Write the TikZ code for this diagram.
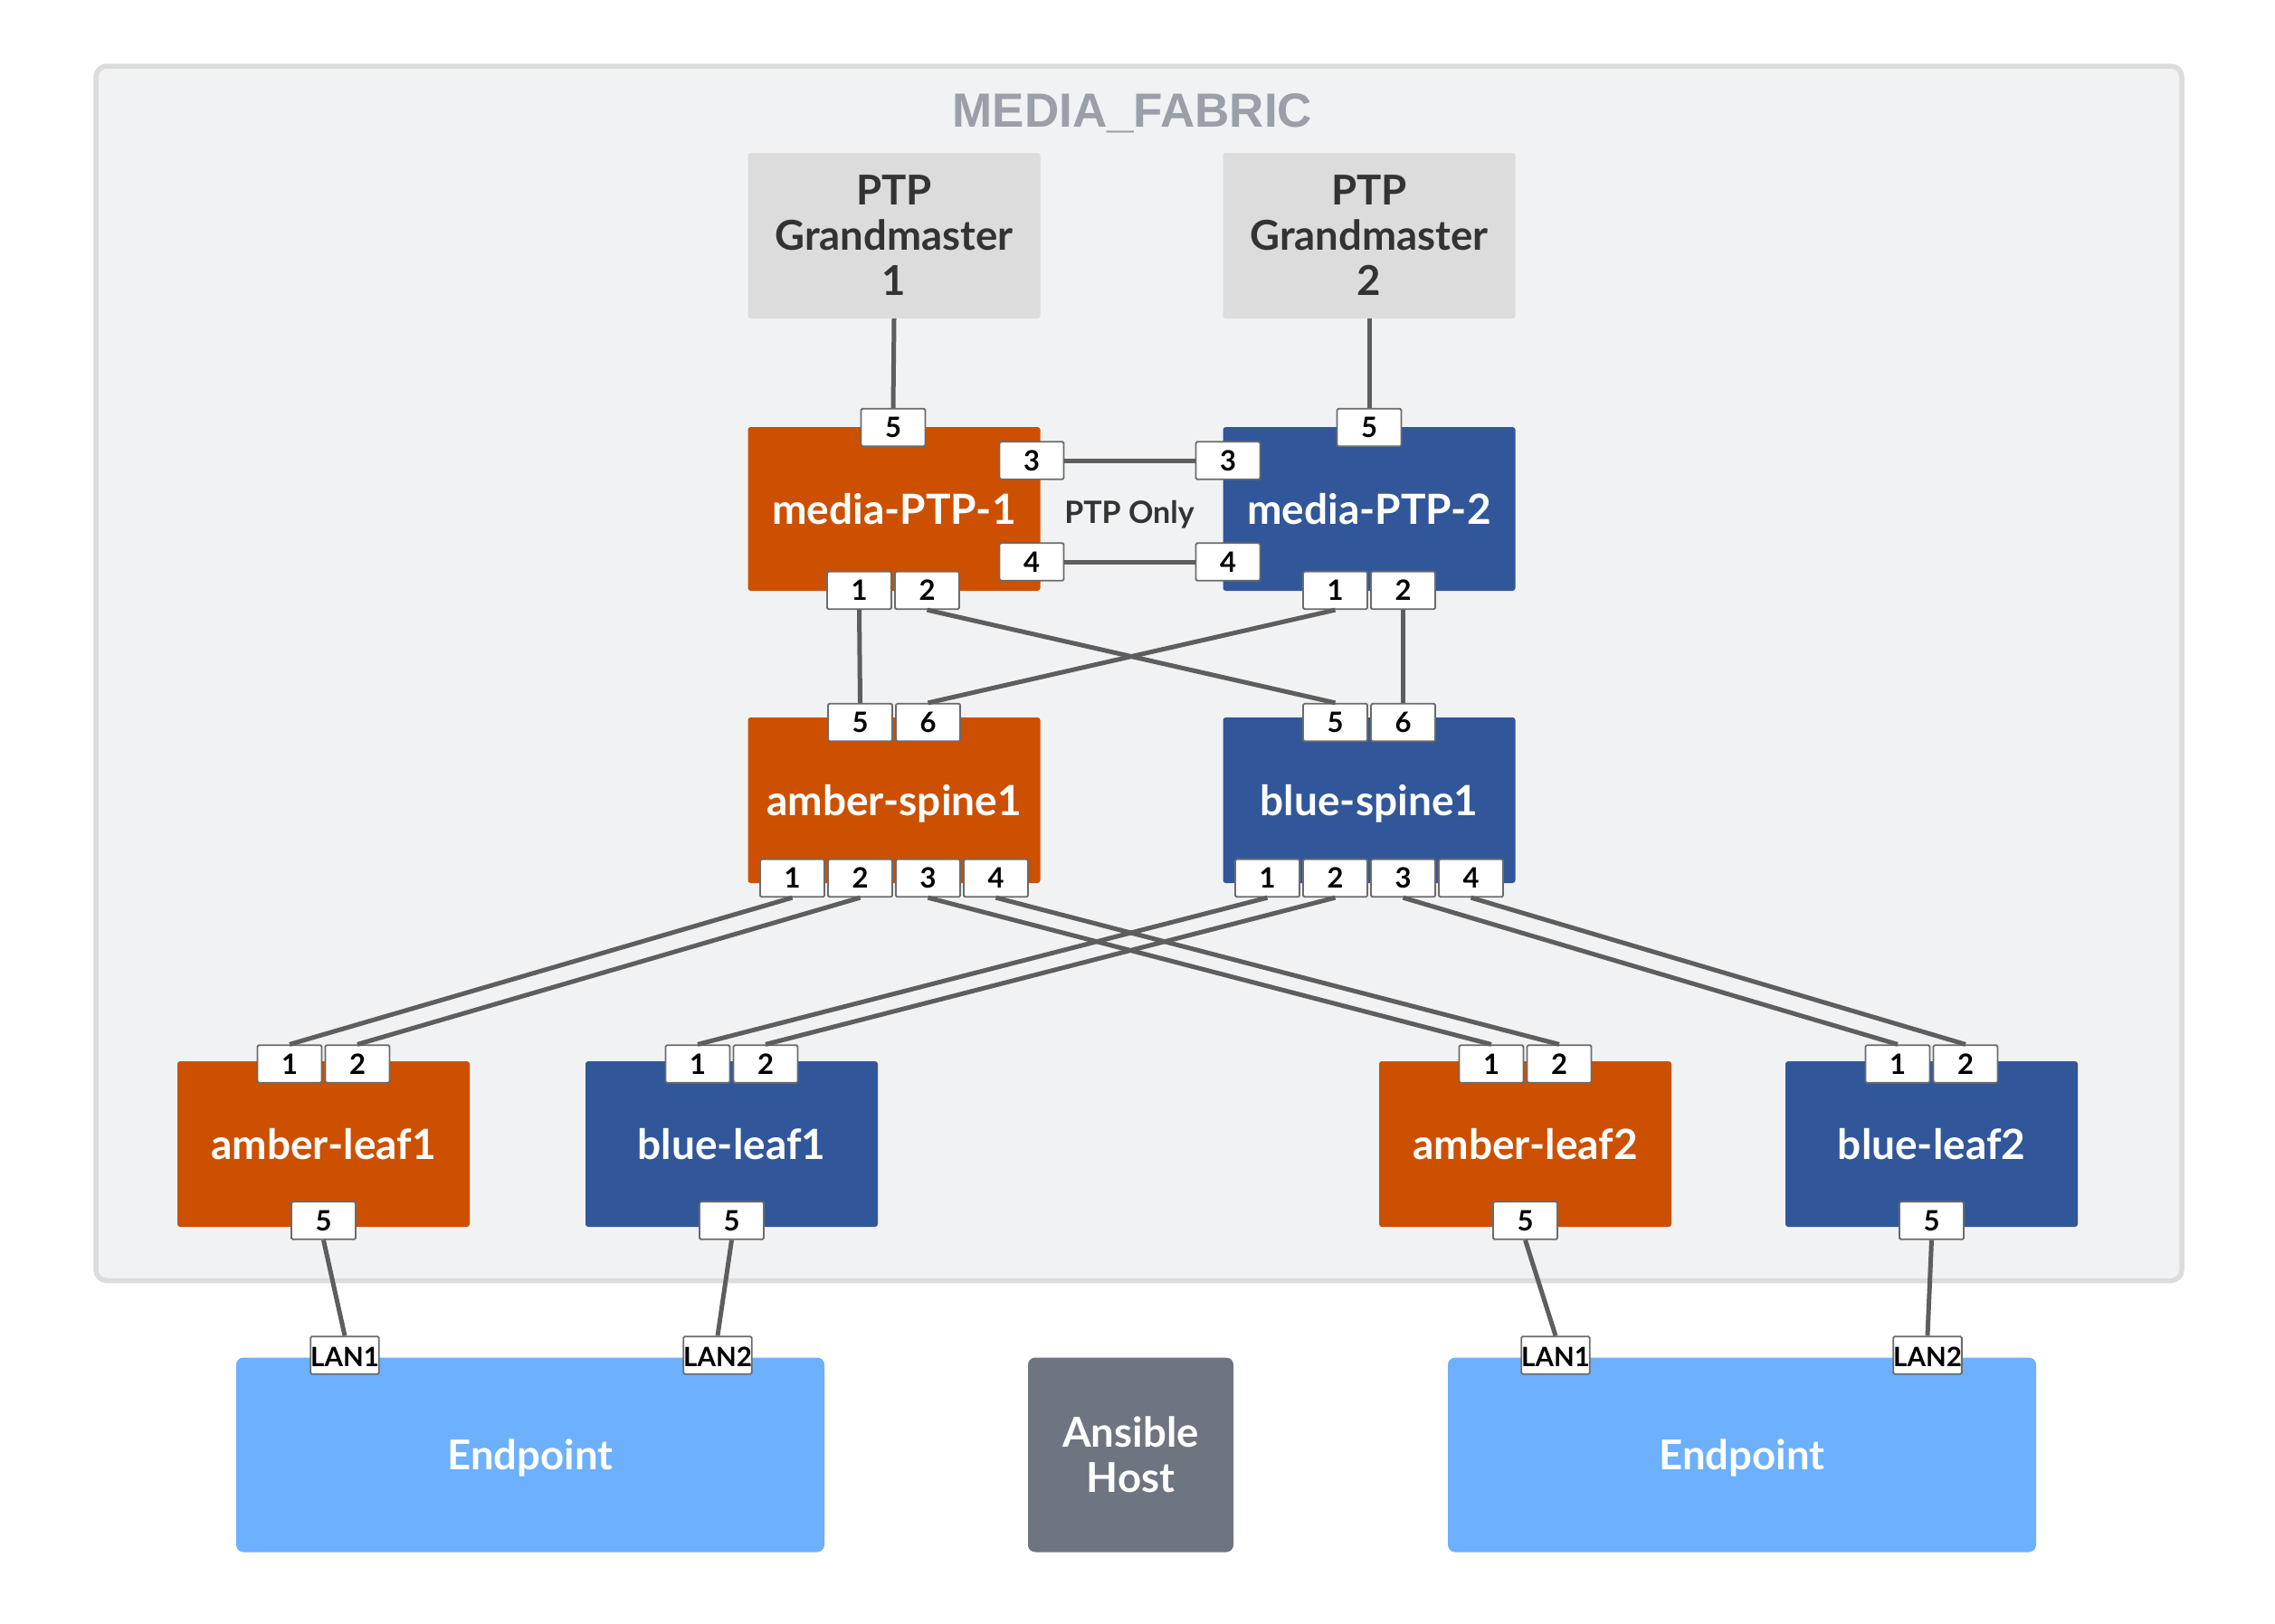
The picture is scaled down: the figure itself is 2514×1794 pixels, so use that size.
\documentclass[tikz,border=0pt]{standalone}
\usepackage{fontspec}
\setmainfont{Lato}
\newfontfamily\titlefont{Liberation Sans}
\definecolor{amber}{HTML}{CC5000}
\definecolor{bluec}{HTML}{31579A}
\definecolor{gmgray}{HTML}{DCDCDC}
\definecolor{framefill}{HTML}{F1F2F4}
\definecolor{frameline}{HTML}{DCDCDC}
\definecolor{endp}{HTML}{6CB0FE}
\definecolor{ansiblec}{HTML}{6E7480}
\definecolor{linkc}{HTML}{5E5E5E}
\definecolor{portline}{HTML}{6B6B6B}
\definecolor{titlec}{HTML}{9A9FA8}
\definecolor{darktext}{HTML}{333333}
\tikzset{
  box/.style={rectangle, rounded corners=3pt, minimum width=323pt, minimum height=183pt,
    inner sep=0pt, text=white, align=center},
  dev/.style={box, font=\bfseries\fontsize{46}{50}\selectfont, text height=33pt, text depth=0pt},
  amberdev/.style={dev, fill=amber},
  bluedev/.style={dev, fill=bluec},
  gmbox/.style={box, fill=gmgray, text=darktext, font=\bfseries\fontsize{45.5}{50}\selectfont},
  hostbox/.style={box, rounded corners=8pt, minimum height=215pt, font=\bfseries\fontsize{45.5}{50}\selectfont},
  port/.style={rectangle, draw=portline, line width=1.8pt, fill=white, rounded corners=1.5pt,
    minimum width=71pt, minimum height=41.5pt, inner sep=0pt, text=black,
    font=\bfseries\fontsize{31}{32}\selectfont, text height=22pt, text depth=0pt},
  lanport/.style={port, font=\bfseries\fontsize{29.5}{32}\selectfont, text height=24pt},
  link/.style={draw=linkc, line width=5pt}
}
\begin{document}
\begin{tikzpicture}[x=1pt, y=-1pt]
\useasboundingbox (0,0) rectangle (2514,1794);
\fill[white] (0,0) rectangle (2514,1794);
% fabric frame
\draw[draw=frameline, line width=5.5pt, fill=framefill, rounded corners=12pt] (106,73) rectangle (2411,1415.5);
\node[font=\titlefont\bfseries\fontsize{53}{60}\selectfont, text=titlec, anchor=base, inner sep=0pt] (title) at (1251.5,140) {MEDIA\_FABRIC};

% grandmasters
\node[gmbox] (gm1) at (988,260.5) {PTP\\Grandmaster\\1};
\node[gmbox] (gm2) at (1513,260.5) {PTP\\Grandmaster\\2};

% PTP switches
\node[amberdev, minimum height=181pt] (ptp1) at (988,562.5) {media-PTP-1};
\node[bluedev, minimum height=181pt] (ptp2) at (1513,562.5) {media-PTP-2};
\node[port] (ptp1p5) at (987,472.5) {5};
\node[port] (ptp1p3) at (1140,509) {3};
\node[port] (ptp1p4) at (1140,621) {4};
\node[port] (ptp1p1) at (949.5,652.5) {1};
\node[port] (ptp1p2) at (1024.5,652.5) {2};
\node[port] (ptp2p5) at (1513,472.5) {5};
\node[port] (ptp2p3) at (1357,509) {3};
\node[port] (ptp2p4) at (1357,621) {4};
\node[port] (ptp2p1) at (1475.5,652.5) {1};
\node[port] (ptp2p2) at (1550.5,652.5) {2};
\node[font=\bfseries\fontsize{34}{38}\selectfont, text=darktext, anchor=base, inner sep=0pt] (ptponly) at (1248,578) {PTP Only};

% spines
\node[amberdev] (aspine) at (988,884.5) {amber-spine1};
\node[bluedev] (bspine) at (1513,884.5) {blue-spine1};
\node[port] (as5) at (950.5,798.5) {5};
\node[port] (as6) at (1025.5,798.5) {6};
\node[port] (as1) at (875.5,970.5) {1};
\node[port] (as2) at (950.5,970.5) {2};
\node[port] (as3) at (1025.5,970.5) {3};
\node[port] (as4) at (1100.5,970.5) {4};
\node[port] (bs5) at (1475.5,798.5) {5};
\node[port] (bs6) at (1550.5,798.5) {6};
\node[port] (bs1) at (1400.5,970.5) {1};
\node[port] (bs2) at (1475.5,970.5) {2};
\node[port] (bs3) at (1550.5,970.5) {3};
\node[port] (bs4) at (1625.5,970.5) {4};

% leaves
\node[amberdev] (al1) at (357.5,1264.5) {amber-leaf1};
\node[bluedev] (bl1) at (808.5,1264.5) {blue-leaf1};
\node[amberdev] (al2) at (1685.5,1264.5) {amber-leaf2};
\node[bluedev] (bl2) at (2134.5,1264.5) {blue-leaf2};
\foreach \n/\x in {al1/357.5, bl1/808.5, al2/1685.5, bl2/2134.5}{
  \node[port] (\n p1) at (\x-37.5,1176) {1};
  \node[port] (\n p2) at (\x+37.5,1176) {2};
  \node[port] (\n p5) at (\x,1349) {5};
}

% hosts
\node[hostbox, fill=endp, minimum width=650pt, text height=32.5pt, text depth=0pt] (ep1) at (586,1608) {Endpoint};
\node[hostbox, fill=ansiblec, minimum width=227pt] (ansible) at (1249.5,1608) {Ansible\\Host};
\node[hostbox, fill=endp, minimum width=650pt, text height=32.5pt, text depth=0pt] (ep2) at (1925,1608) {Endpoint};
\node[lanport] (ep1l1) at (381,1498) {LAN1};
\node[lanport] (ep1l2) at (793,1498) {LAN2};
\node[lanport] (ep2l1) at (1719,1498) {LAN1};
\node[lanport] (ep2l2) at (2130,1498) {LAN2};

% links
\draw[link] (gm1.south) -- (ptp1p5.north);
\draw[link] (gm2.south) -- (ptp2p5.north);
\draw[link] (ptp1p3.east) -- (ptp2p3.west);
\draw[link] (ptp1p4.east) -- (ptp2p4.west);
\draw[link] (ptp1p1.south) -- (as5.north);
\draw[link] (ptp1p2.south) -- (bs5.north);
\draw[link] (ptp2p1.south) -- (as6.north);
\draw[link] (ptp2p2.south) -- (bs6.north);
\draw[link] (as1.south) -- (al1p1.north);
\draw[link] (as2.south) -- (al1p2.north);
\draw[link] (as3.south) -- (al2p1.north);
\draw[link] (as4.south) -- (al2p2.north);
\draw[link] (bs1.south) -- (bl1p1.north);
\draw[link] (bs2.south) -- (bl1p2.north);
\draw[link] (bs3.south) -- (bl2p1.north);
\draw[link] (bs4.south) -- (bl2p2.north);
\draw[link] (al1p5.south) -- (ep1l1.north);
\draw[link] (bl1p5.south) -- (ep1l2.north);
\draw[link] (al2p5.south) -- (ep2l1.north);
\draw[link] (bl2p5.south) -- (ep2l2.north);
\end{tikzpicture}
\end{document}
